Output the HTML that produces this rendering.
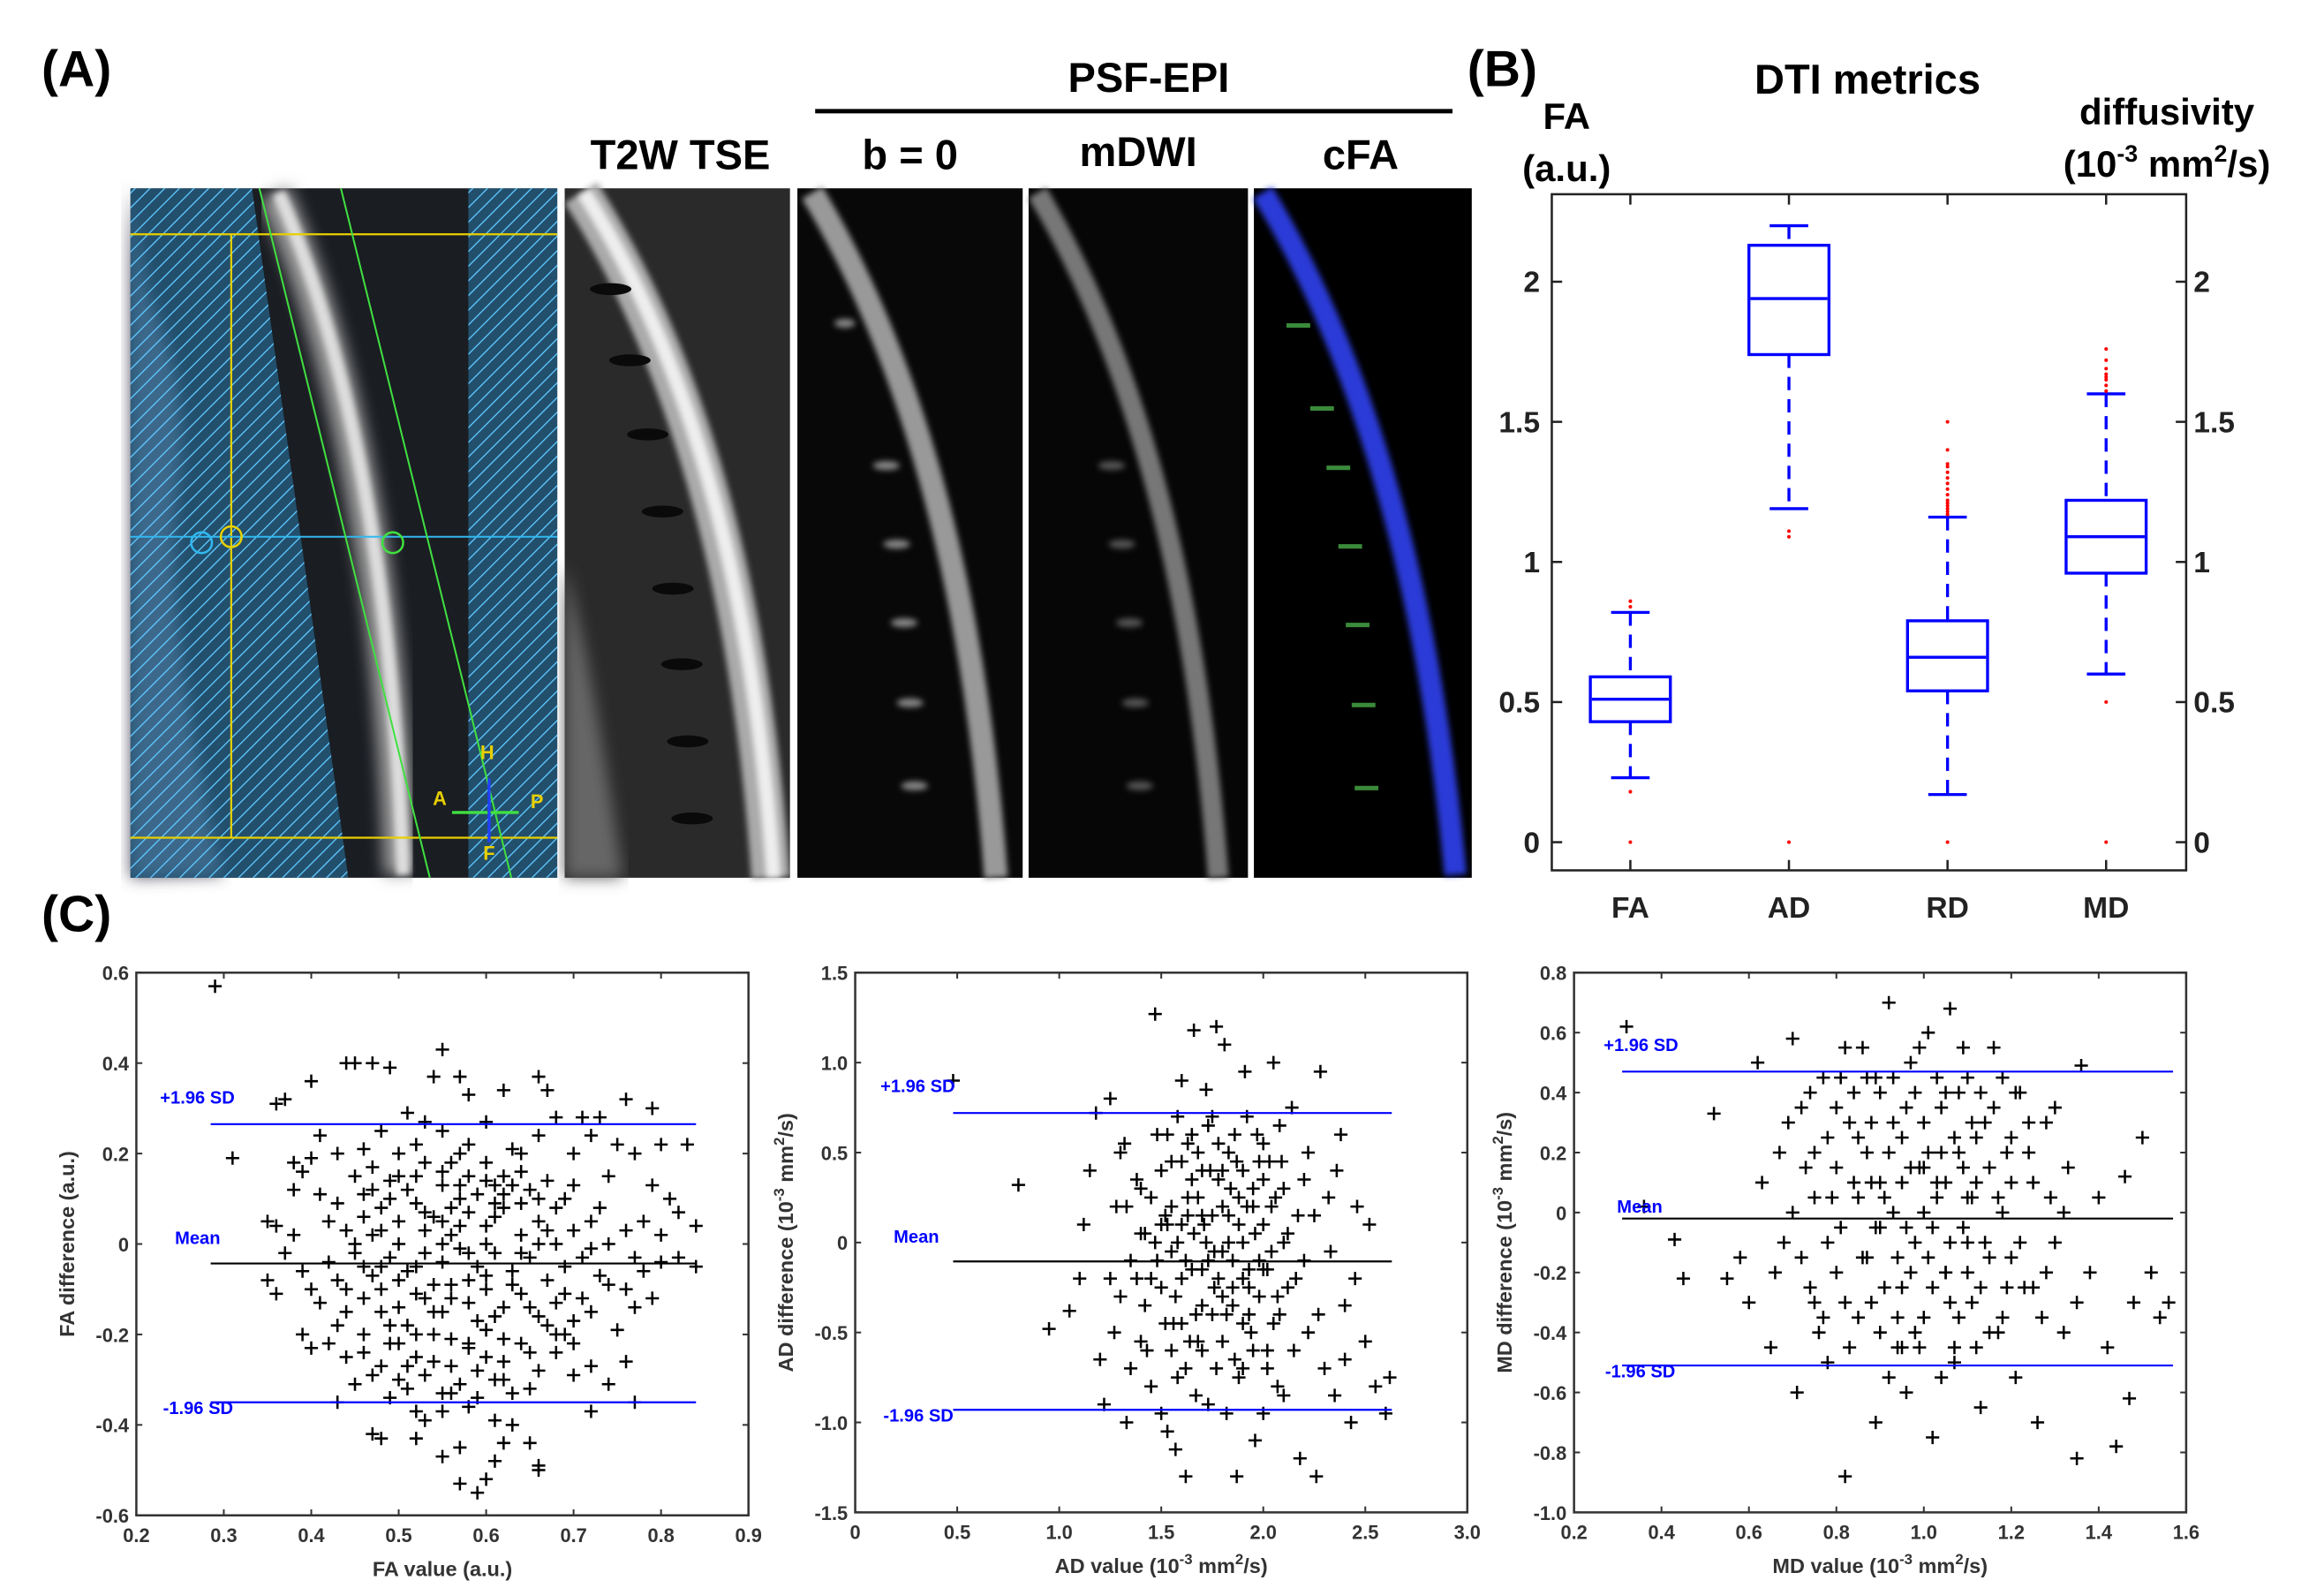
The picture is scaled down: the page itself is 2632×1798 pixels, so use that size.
<!DOCTYPE html>
<html><head><meta charset="utf-8"><style>
html,body{margin:0;padding:0;background:#fff}
svg{display:block}
text{font-family:"Liberation Sans",sans-serif;font-weight:bold}
</style></head><body>
<svg id="fig" width="2632" height="1798" viewBox="0 0 1568 1071" preserveAspectRatio="none" xmlns="http://www.w3.org/2000/svg">
<defs>
<pattern id="hatch" width="7" height="7" patternUnits="userSpaceOnUse" patternTransform="rotate(45)">
<rect width="7" height="7" fill="rgba(40,120,170,0.55)"/><line x1="0" y1="0" x2="0" y2="7" stroke="#5fc8ff" stroke-width="1.6"/></pattern>
<filter id="blur2"><feGaussianBlur stdDeviation="2"/></filter>
<filter id="blur5"><feGaussianBlur stdDeviation="5"/></filter>
</defs>
<rect width="1568" height="1071" fill="#fff"/>
<text x="28" y="58" font-size="34">(A)</text>
<text x="990" y="58" font-size="34">(B)</text>
<text x="28" y="628" font-size="34">(C)</text>

<g>
<rect x="88" y="127" width="288" height="465" fill="#1a1d22"/>
<path d="M100 200 Q130 260 120 330 Q110 420 150 590 L88 592 L88 127 Z" fill="#556" filter="url(#blur5)"/>
<path d="M185 130 Q260 300 270 590" stroke="#999" stroke-width="22" fill="none" filter="url(#blur5)"/>
<path d="M188 130 Q262 300 272 590" stroke="#ddd" stroke-width="9" fill="none" filter="url(#blur2)"/>
<path d="M88 127 L170 127 L235 592 L88 592 Z" fill="url(#hatch)"/>
<rect x="316" y="127" width="60" height="465" fill="url(#hatch)"/>
<line x1="88" y1="158" x2="376" y2="158" stroke="#e8d000" stroke-width="1.3"/>
<line x1="88" y1="565" x2="376" y2="565" stroke="#e8d000" stroke-width="1.3"/>
<line x1="156" y1="158" x2="156" y2="565" stroke="#e8d000" stroke-width="1.3"/>
<line x1="88" y1="362" x2="376" y2="362" stroke="#30b8f0" stroke-width="1.2"/>
<line x1="175" y1="127" x2="290" y2="592" stroke="#40e040" stroke-width="1.2"/>
<line x1="230" y1="127" x2="345" y2="592" stroke="#40e040" stroke-width="1.2"/>
<circle cx="156" cy="362" r="7" fill="none" stroke="#e8d000" stroke-width="1.5"/>
<circle cx="136" cy="366" r="7" fill="none" stroke="#30b8f0" stroke-width="1.5"/>
<circle cx="265" cy="366" r="7" fill="none" stroke="#40e040" stroke-width="1.5"/>
<text x="324" y="512" font-size="13" fill="#e8d000">H</text>
<text x="292" y="543" font-size="13" fill="#e8d000">A</text>
<text x="358" y="545" font-size="13" fill="#e8d000">P</text>
<text x="326" y="580" font-size="13" fill="#e8d000">F</text>
<line x1="305" y1="548" x2="350" y2="548" stroke="#40e040" stroke-width="2"/>
<line x1="330" y1="525" x2="330" y2="568" stroke="#2040ff" stroke-width="2"/>
</g>
<g>
<rect x="381" y="127" width="152" height="465" fill="#2a2a2a"/>
<path d="M381 380 Q400 450 420 592 L381 592 Z" fill="#666" filter="url(#blur5)"/>
<path d="M392 130 Q500 300 520 592" stroke="#aaa" stroke-width="26" fill="none" filter="url(#blur2)"/>
<path d="M394 130 Q502 300 522 592" stroke="#eee" stroke-width="10" fill="none" filter="url(#blur2)"/>
<g fill="#0a0a0a"><ellipse cx="412" cy="195" rx="14" ry="4"/><ellipse cx="425" cy="243" rx="14" ry="4"/><ellipse cx="437" cy="293" rx="14" ry="4"/><ellipse cx="447" cy="345" rx="14" ry="4"/><ellipse cx="454" cy="397" rx="14" ry="4"/><ellipse cx="460" cy="448" rx="14" ry="4"/><ellipse cx="464" cy="500" rx="14" ry="4"/><ellipse cx="467" cy="552" rx="14" ry="4"/></g>
</g>
<g>
<rect x="538" y="127" width="152" height="465" fill="#080808"/>
<path d="M548 130 Q650 300 672 592" stroke="#999" stroke-width="16" fill="none" filter="url(#blur2)"/>
<g fill="#888" filter="url(#blur2)"><ellipse cx="570" cy="218" rx="7" ry="3"/><ellipse cx="598" cy="314" rx="9" ry="3"/><ellipse cx="605" cy="367" rx="9" ry="3"/><ellipse cx="610" cy="420" rx="9" ry="3"/><ellipse cx="614" cy="474" rx="9" ry="3"/><ellipse cx="617" cy="530" rx="9" ry="3"/></g>
</g>
<g>
<rect x="694" y="127" width="148" height="465" fill="#060606"/>
<path d="M700 130 Q800 300 822 592" stroke="#777" stroke-width="14" fill="none" filter="url(#blur2)"/>
<g fill="#555" filter="url(#blur2)"><ellipse cx="750" cy="314" rx="9" ry="3"/><ellipse cx="757" cy="367" rx="9" ry="3"/><ellipse cx="762" cy="420" rx="9" ry="3"/><ellipse cx="766" cy="474" rx="9" ry="3"/><ellipse cx="769" cy="530" rx="9" ry="3"/></g>
</g>
<g>
<rect x="846" y="127" width="147" height="465" fill="#000"/>
<path d="M852 130 Q955 300 982 590" stroke="#2a3ad8" stroke-width="15" fill="none" filter="url(#blur2)"/>
<g fill="#3a8a3a"><rect x="868" y="218" width="16" height="3"/><rect x="884" y="274" width="16" height="3"/><rect x="895" y="314" width="16" height="3"/><rect x="903" y="367" width="16" height="3"/><rect x="908" y="420" width="16" height="3"/><rect x="912" y="474" width="16" height="3"/><rect x="914" y="530" width="16" height="3"/></g>
</g>
<text x="459" y="114" font-size="28" text-anchor="middle">T2W TSE</text>
<text x="614" y="114" font-size="28" text-anchor="middle">b = 0</text>
<text x="768" y="112" font-size="28" text-anchor="middle">mDWI</text>
<text x="918" y="114" font-size="28" text-anchor="middle">cFA</text>
<text x="775" y="62" font-size="28" text-anchor="middle">PSF-EPI</text>
<line x1="550" y1="75" x2="980" y2="75" stroke="#000" stroke-width="3"/>

<text x="1260" y="63" font-size="28" text-anchor="middle">DTI metrics</text>
<text x="1057" y="87" font-size="25" text-anchor="middle">FA</text>
<text x="1057" y="122" font-size="25" text-anchor="middle">(a.u.)</text>
<text x="1462" y="84" font-size="25" text-anchor="middle">diffusivity</text>
<text x="1462" y="119" font-size="25" text-anchor="middle">(10<tspan dy="-10" font-size="16">-3</tspan><tspan dy="10"> mm</tspan><tspan dy="-10" font-size="16">2</tspan><tspan dy="10">/s)</tspan></text>
<g id="boxplot"></g>
<g id="s1"></g>
<g id="s2"></g>
<g id="s3"></g>
</svg>
<script>
const boxCats=["FA","AD","RD","MD"];
const boxWhiskLo=[0.23,1.19,0.17,0.60];
const boxQ1=[0.43,1.74,0.54,0.96];
const boxMed=[0.51,1.94,0.66,1.09];
const boxQ3=[0.59,2.13,0.79,1.22];
const boxWhiskHi=[0.82,2.20,1.16,1.60];
const boxOutliers=[[0,0.18,0.84,0.86],[0,1.09,1.11],[0,1.17,1.18,1.19,1.20,1.21,1.22,1.24,1.26,1.28,1.30,1.32,1.34,1.35,1.40,1.50],[0,0.50,1.61,1.63,1.65,1.66,1.67,1.69,1.72,1.76]];
const boxTicks=[0,0.5,1,1.5,2];
const boxTickLabels=["0","0.5","1","1.5","2"];

const faPts=[[0.29,0.57],[0.31,0.19],[0.36,0.31],[0.37,0.32],[0.40,0.36],[0.44,0.40],[0.45,0.40],[0.47,0.40],[0.49,0.39],[0.55,0.43],[0.54,0.37],[0.57,0.37],[0.66,0.37],[0.67,0.34],[0.62,0.34],[0.58,0.33],[0.76,0.32],[0.79,0.30],[0.71,0.28],[0.73,0.28],[0.51,0.29],[0.48,0.25],[0.41,0.24],[0.38,0.18],[0.39,0.16],[0.40,0.19],[0.43,0.20],[0.46,0.21],[0.50,0.20],[0.52,0.22],[0.55,0.25],[0.58,0.22],[0.60,0.18],[0.63,0.21],[0.66,0.24],[0.70,0.20],[0.72,0.24],[0.75,0.22],[0.80,0.22],[0.83,0.22],[0.77,0.20],[0.74,0.15],[0.79,0.13],[0.81,0.10],[0.82,0.07],[0.84,0.04],[0.78,0.05],[0.76,0.03],[0.73,0.08],[0.69,0.10],[0.67,0.14],[0.64,0.16],[0.61,0.13],[0.58,0.15],[0.55,0.13],[0.52,0.15],[0.49,0.14],[0.46,0.11],[0.43,0.09],[0.41,0.11],[0.38,0.12],[0.35,0.05],[0.36,0.04],[0.38,0.02],[0.37,-0.02],[0.39,-0.06],[0.36,-0.11],[0.35,-0.08],[0.40,-0.10],[0.42,-0.04],[0.44,0.03],[0.46,0.06],[0.48,0.08],[0.50,0.05],[0.52,0.09],[0.54,0.06],[0.56,0.02],[0.58,0.07],[0.60,0.04],[0.62,0.08],[0.64,0.02],[0.66,0.05],[0.68,0.00],[0.70,0.03],[0.72,-0.01],[0.74,0.00],[0.77,-0.03],[0.80,-0.04],[0.82,-0.03],[0.84,-0.05],[0.79,-0.12],[0.76,-0.10],[0.73,-0.07],[0.71,-0.12],[0.69,-0.05],[0.67,-0.08],[0.65,-0.03],[0.63,-0.06],[0.61,-0.02],[0.59,-0.05],[0.57,-0.01],[0.55,-0.04],[0.53,-0.02],[0.51,-0.06],[0.49,-0.03],[0.47,-0.07],[0.45,-0.02],[0.43,-0.08],[0.41,-0.13],[0.44,-0.15],[0.46,-0.12],[0.48,-0.10],[0.50,-0.14],[0.52,-0.11],[0.54,-0.15],[0.56,-0.09],[0.58,-0.13],[0.60,-0.10],[0.62,-0.14],[0.64,-0.11],[0.66,-0.16],[0.68,-0.13],[0.70,-0.17],[0.72,-0.15],[0.75,-0.19],[0.77,-0.14],[0.39,-0.20],[0.40,-0.23],[0.42,-0.22],[0.44,-0.25],[0.46,-0.20],[0.48,-0.27],[0.50,-0.22],[0.52,-0.25],[0.54,-0.20],[0.56,-0.27],[0.58,-0.23],[0.60,-0.19],[0.62,-0.26],[0.64,-0.22],[0.66,-0.28],[0.68,-0.24],[0.70,-0.29],[0.72,-0.27],[0.74,-0.31],[0.76,-0.26],[0.45,-0.31],[0.47,-0.29],[0.49,-0.34],[0.51,-0.32],[0.53,-0.29],[0.55,-0.33],[0.57,-0.31],[0.59,-0.34],[0.61,-0.30],[0.63,-0.33],[0.65,-0.32],[0.43,-0.35],[0.52,-0.37],[0.53,-0.39],[0.55,-0.37],[0.58,-0.36],[0.61,-0.39],[0.63,-0.40],[0.65,-0.44],[0.62,-0.44],[0.57,-0.45],[0.55,-0.47],[0.48,-0.43],[0.47,-0.42],[0.52,-0.43],[0.66,-0.50],[0.66,-0.49],[0.61,-0.48],[0.60,-0.52],[0.59,-0.55],[0.57,-0.53],[0.72,-0.37],[0.77,-0.35],[0.50,0.00],[0.55,0.00],[0.60,-0.07],[0.53,0.03],[0.57,0.10],[0.59,-0.17],[0.51,-0.18],[0.62,0.11],[0.47,0.17],[0.65,0.12],[0.56,0.18],[0.60,0.27],[0.53,0.27],[0.68,0.28],[0.69,-0.20],[0.49,-0.18],[0.56,-0.21],
[0.45,0.00],[0.46,-0.05],[0.47,0.02],[0.48,-0.15],[0.49,0.10],[0.50,-0.08],[0.51,0.12],[0.52,-0.20],[0.53,0.07],[0.54,-0.09],[0.55,0.16],[0.56,-0.12],[0.57,0.04],[0.58,-0.22],[0.59,0.11],[0.60,0.00],[0.61,-0.16],[0.62,0.15],[0.63,-0.09],[0.64,0.09],[0.65,-0.24],[0.66,0.00],[0.67,-0.18],[0.68,0.08],[0.69,-0.11],[0.70,0.13],[0.71,-0.03],[0.46,-0.24],[0.48,0.03],[0.50,0.15],[0.52,-0.05],[0.54,-0.26],[0.56,0.08],[0.58,-0.02],[0.60,0.14],[0.62,-0.21],[0.64,-0.02],[0.66,0.10],[0.68,-0.20],[0.51,-0.27],[0.53,0.18],[0.55,-0.15],[0.57,0.13],[0.59,-0.28],[0.61,0.06],[0.63,0.13],[0.65,-0.14],[0.67,0.03],[0.47,0.12],[0.49,-0.22],[0.44,-0.10],[0.42,0.05],[0.43,-0.18],[0.72,0.05],[0.74,-0.09],[0.78,-0.06],[0.80,0.02],[0.55,0.05],[0.58,-0.08],[0.61,0.09],[0.50,-0.30],[0.56,-0.33],[0.62,-0.30],[0.48,-0.05],[0.53,-0.12],[0.60,-0.25],[0.64,0.20],[0.57,0.20],[0.45,0.15],[0.70,-0.22]];
const faLimits=[0.265,-0.043,-0.35];
const adPts=[[0.48,0.90],[0.80,0.32],[0.95,-0.48],[1.05,-0.38],[1.10,-0.20],[1.12,0.10],[1.15,0.40],[1.18,0.72],[1.20,-0.65],[1.22,-0.90],[1.25,0.80],[1.28,0.20],[1.30,-0.30],[1.32,0.55],[1.35,-0.10],[1.38,0.35],[1.40,-0.55],[1.42,0.05],[1.45,-0.80],[1.47,1.27],[1.48,0.60],[1.50,-0.25],[1.52,0.15],[1.53,-1.05],[1.55,0.45],[1.56,-0.45],[1.58,0.00],[1.60,0.90],[1.62,-0.70],[1.63,0.25],[1.65,-0.15],[1.66,1.18],[1.68,0.50],[1.70,-0.35],[1.71,0.10],[1.73,-0.90],[1.75,0.70],[1.76,-0.05],[1.78,0.35],[1.80,-0.55],[1.81,1.10],[1.83,0.15],[1.85,-0.25],[1.86,0.60],[1.88,-0.75],[1.90,0.00],[1.91,0.95],[1.93,-0.40],[1.95,0.30],[1.96,-1.10],[1.98,-0.10],[2.00,0.55],[2.02,-0.60],[2.04,0.20],[2.05,1.00],[2.07,-0.30],[2.09,0.45],[2.10,-0.85],[2.12,0.05],[2.14,0.75],[2.16,-0.20],[2.18,-1.20],[2.20,0.35],[2.22,-0.50],[2.25,0.15],[2.28,0.95],[2.30,-0.70],[2.33,-0.05],[2.36,0.40],[2.40,-0.35],[2.43,-1.00],[2.46,0.20],[2.50,-0.55],[2.55,-0.80],[2.60,-0.95],[2.62,-0.75],[1.45,0.25],[1.50,0.40],[1.55,-0.60],[1.60,-0.20],[1.65,0.35],[1.70,0.15],[1.75,-0.40],[1.80,0.20],[1.85,-0.10],[1.90,0.40],[1.95,-0.60],[2.00,0.10],[2.05,-0.45],[2.10,0.30],[1.40,0.05],[1.35,-0.70],[1.50,-0.95],[1.62,-1.30],[1.72,0.85],[1.82,-0.95],[1.92,0.70],[2.02,-0.15],[2.15,-0.60],[1.58,0.70],[1.68,-0.55],[1.78,-0.20],[1.88,0.25],[1.98,0.45],[1.48,-0.10],[1.53,0.10],[1.63,0.55],[1.73,-0.10],[1.83,0.50],[1.93,-0.25],[2.08,0.65],[2.20,-0.10],[2.35,-0.85],[1.42,-0.35],[1.57,-1.15],[1.67,-0.85],[1.77,1.20],[1.87,-1.30],[2.26,-1.30],[2.38,0.60],[1.33,-1.00],[1.27,-0.50],[2.45,-0.20],[2.52,0.10],[1.60,0.10],[1.70,0.40],[1.80,-0.30],[1.90,-0.70],[2.00,-0.95],
[1.40,0.30],[1.45,-0.20],[1.50,0.10],[1.52,-0.45],[1.55,0.20],[1.57,-0.30],[1.60,0.45],[1.62,-0.10],[1.64,-0.55],[1.66,0.05],[1.68,0.25],[1.70,-0.60],[1.72,0.00],[1.74,0.40],[1.76,-0.25],[1.78,0.55],[1.80,-0.05],[1.82,-0.40],[1.84,0.30],[1.86,-0.65],[1.88,0.10],[1.90,-0.20],[1.92,0.20],[1.94,-0.50],[1.96,0.05],[1.98,-0.30],[2.00,0.35],[2.02,-0.70],[2.04,-0.05],[2.06,0.25],[2.08,-0.40],[2.10,0.00],[1.43,-0.60],[1.47,0.00],[1.53,0.60],[1.58,-0.75],[1.63,0.15],[1.67,-0.40],[1.73,0.65],[1.77,-0.70],[1.83,0.00],[1.87,0.45],[1.93,-0.15],[1.97,0.60],[2.03,0.45],[2.07,-0.80],[2.12,-0.25],[2.17,0.15],[2.22,0.50],[2.27,-0.40],[1.38,-0.20],[1.33,0.20],[1.30,0.50],[1.25,-0.20],[2.32,0.25],[2.40,-0.65],[1.60,-0.45],[1.70,-0.15],[1.80,0.40],[1.90,-0.45],[1.65,0.60],[1.75,0.15],[1.85,-0.35],[1.95,0.20],[1.55,-0.05],[2.00,-0.15]];
const adLimits=[0.72,-0.105,-0.93];
const mdPts=[[0.32,0.62],[0.36,0.02],[0.43,-0.09],[0.45,-0.22],[0.52,0.33],[0.55,-0.22],[0.58,-0.15],[0.60,-0.30],[0.62,0.50],[0.63,0.10],[0.65,-0.45],[0.67,0.20],[0.68,-0.10],[0.70,0.58],[0.71,-0.60],[0.72,0.35],[0.74,-0.25],[0.75,0.05],[0.77,0.45],[0.78,-0.50],[0.80,0.15],[0.81,-0.05],[0.82,-0.88],[0.83,0.30],[0.85,-0.35],[0.86,0.55],[0.87,-0.15],[0.88,0.10],[0.89,-0.70],[0.90,0.40],[0.91,-0.25],[0.92,0.70],[0.93,0.00],[0.94,-0.45],[0.95,0.25],[0.96,-0.60],[0.97,0.50],[0.98,-0.10],[0.99,0.15],[1.00,-0.35],[1.01,0.60],[1.02,-0.75],[1.03,0.05],[1.04,0.35],[1.05,-0.20],[1.06,0.68],[1.07,-0.50],[1.08,0.20],[1.09,-0.05],[1.10,0.45],[1.11,-0.30],[1.12,0.10],[1.13,-0.65],[1.14,0.30],[1.15,-0.15],[1.16,0.55],[1.17,-0.40],[1.18,0.00],[1.20,0.25],[1.21,-0.55],[1.22,0.40],[1.23,-0.25],[1.25,0.10],[1.26,-0.70],[1.28,0.30],[1.30,-0.10],[1.32,-0.40],[1.33,0.15],[1.35,-0.82],[1.36,0.49],[1.38,-0.20],[1.40,0.05],[1.42,-0.45],[1.44,-0.78],[1.46,0.12],[1.48,-0.30],[1.50,0.25],[1.52,-0.20],[1.54,-0.35],[1.56,-0.30],[1.47,-0.62],[0.85,0.05],[0.90,-0.05],[0.95,0.10],[1.00,0.00],[1.05,0.10],[1.10,-0.10],[0.88,-0.30],[0.93,0.30],[0.98,-0.40],[1.03,0.45],[1.08,-0.35],[1.13,0.40],[0.80,-0.20],[0.78,0.25],[0.84,0.40],[0.96,0.35],[1.02,-0.25],[1.12,-0.45],[1.18,0.45],[0.92,-0.55],[0.97,-0.20],[1.07,0.25],[1.15,0.15],[1.20,-0.15],[0.75,-0.30],[0.70,0.00],[0.73,0.15],[0.82,0.55],[0.87,0.20],[0.99,0.55],[1.04,-0.55],[1.09,0.55],[1.24,0.20],[1.27,-0.35],[0.66,-0.20],[0.69,0.30],[0.94,-0.15],[1.01,0.20],[1.06,-0.10],[1.11,0.05],[0.89,0.45],[0.76,-0.40],[1.19,-0.25],[1.29,0.05],
[0.75,0.20],[0.78,-0.10],[0.80,0.35],[0.82,-0.30],[0.84,0.10],[0.86,-0.15],[0.88,0.30],[0.90,-0.40],[0.91,0.05],[0.93,0.45],[0.95,-0.25],[0.97,0.15],[0.99,-0.45],[1.00,0.30],[1.02,-0.05],[1.04,0.20],[1.06,-0.30],[1.08,0.40],[1.10,-0.20],[1.12,0.25],[1.14,-0.10],[1.16,0.35],[1.18,-0.35],[1.20,0.10],[1.22,-0.10],[1.24,0.30],[0.79,0.05],[0.83,-0.45],[0.87,0.45],[0.92,0.20],[0.96,-0.05],[1.01,-0.15],[1.05,0.40],[1.09,0.15],[1.13,-0.25],[1.17,0.05],[1.21,0.40],[1.25,-0.25],[0.85,0.25],[0.89,-0.05],[0.94,-0.35],[0.98,0.40],[1.03,0.10],[1.07,-0.45],[1.11,0.30],[1.15,-0.40],[1.19,0.20],[0.77,-0.35],[0.81,0.45],[0.72,-0.15],[0.74,0.40],[1.28,-0.20],[1.30,0.35],[1.32,0.00],[1.35,-0.30],[0.90,0.10],[1.00,0.15],[1.10,0.05],[0.95,-0.45],[1.05,-0.20]];
const mdLimits=[0.47,-0.02,-0.51];
const faXTicks=["0.2","0.3","0.4","0.5","0.6","0.7","0.8","0.9"];
const faYTicks=["-0.6","-0.4","-0.2","0","0.2","0.4","0.6"];
const adXTicks=["0","0.5","1.0","1.5","2.0","2.5","3.0"];
const adYTicks=["-1.5","-1.0","-0.5","0","0.5","1.0","1.5"];
const mdXTicks=["0.2","0.4","0.6","0.8","1.0","1.2","1.4","1.6"];
const mdYTicks=["-1.0","-0.8","-0.6","-0.4","-0.2","0","0.2","0.4","0.6","0.8"];

const NS="http://www.w3.org/2000/svg";
function mk(parent,tag,attrs){const e=document.createElementNS(NS,tag);for(const k in attrs)e.setAttribute(k,attrs[k]);parent.appendChild(e);return e;}

(function(){
  const g=document.getElementById('boxplot');
  const L=1047,R=1475,T=131,B=587;
  const y=v=>568-v*189;
  const x=i=>1100+i*107;
  const fr=mk(g,'rect',{x:L,y:T,width:R-L,height:B-T,fill:'none',stroke:'#222','stroke-width':1.5});
  
  
  boxTicks.forEach((v,i)=>{
    mk(g,'line',{x1:L,x2:L+7,y1:y(v),y2:y(v),stroke:'#222','stroke-width':1.5});
    mk(g,'line',{x1:R-7,x2:R,y1:y(v),y2:y(v),stroke:'#222','stroke-width':1.5});
    const t1=mk(g,'text',{x:L-8,y:y(v)+7,'font-size':20,'text-anchor':'end',fill:'#222'});t1.textContent=boxTickLabels[i];
    
    
    const t2=mk(g,'text',{x:R+5,y:y(v)+7,'font-size':20,fill:'#222'});t2.textContent=boxTickLabels[i];
    
    
  });
  boxCats.forEach((c,i)=>{
    const cx=x(i),hw=26;
    mk(g,'line',{x1:cx,x2:cx,y1:T,y2:T+7,stroke:'#222','stroke-width':1.5});
    mk(g,'line',{x1:cx,x2:cx,y1:B-7,y2:B,stroke:'#222','stroke-width':1.5});
    const bg=mk(g,'g',{});
    
    
    mk(bg,'line',{x1:cx,x2:cx,y1:y(boxWhiskHi[i]),y2:y(boxQ3[i]),stroke:'#00f','stroke-width':2,'stroke-dasharray':'9 6'});
    mk(bg,'line',{x1:cx,x2:cx,y1:y(boxQ1[i]),y2:y(boxWhiskLo[i]),stroke:'#00f','stroke-width':2,'stroke-dasharray':'9 6'});
    mk(bg,'line',{x1:cx-13,x2:cx+13,y1:y(boxWhiskHi[i]),y2:y(boxWhiskHi[i]),stroke:'#00f','stroke-width':2});
    mk(bg,'line',{x1:cx-13,x2:cx+13,y1:y(boxWhiskLo[i]),y2:y(boxWhiskLo[i]),stroke:'#00f','stroke-width':2});
    mk(bg,'rect',{x:cx-hw-1,y:y(boxQ3[i]),width:2*hw+2,height:y(boxQ1[i])-y(boxQ3[i]),fill:'none',stroke:'#00f','stroke-width':2});
    mk(bg,'line',{x1:cx-hw,x2:cx+hw,y1:y(boxMed[i]),y2:y(boxMed[i]),stroke:'#00f','stroke-width':2});
    boxOutliers[i].forEach(v=>{
      const o=mk(bg,'circle',{cx:cx,cy:y(v),r:1.2,fill:'#f00'});
      
      
    });
    const t=mk(g,'text',{x:cx,y:619,'font-size':20,'text-anchor':'middle',fill:'#222'});t.textContent=c;
    
    
  });
})();

function scatter(id,L,T,R,B,xmin,xmax,ymin,ymax,xt,yt,pts,lim,xlo,xhi,ylabParts,xlabParts,labX){
  const g=document.getElementById(id);
  const x=v=>L+(v-xmin)/(xmax-xmin)*(R-L);
  const y=v=>B-(v-ymin)/(ymax-ymin)*(B-T);
  const fr=mk(g,'rect',{x:L,y:T,width:R-L,height:B-T,fill:'none',stroke:'#333','stroke-width':1.5});
  
  
  xt.forEach(s=>{const v=parseFloat(s);
    mk(g,'line',{x1:x(v),x2:x(v),y1:B,y2:B-4,stroke:'#333','stroke-width':1.2});
    mk(g,'line',{x1:x(v),x2:x(v),y1:T,y2:T+4,stroke:'#333','stroke-width':1.2});
    const t=mk(g,'text',{x:x(v),y:B+18,'font-size':13,'text-anchor':'middle',fill:'#333'});t.textContent=s;
    
    
  });
  yt.forEach(s=>{const v=parseFloat(s);
    mk(g,'line',{x1:L,x2:L+4,y1:y(v),y2:y(v),stroke:'#333','stroke-width':1.2});
    mk(g,'line',{x1:R-4,x2:R,y1:y(v),y2:y(v),stroke:'#333','stroke-width':1.2});
    const t=mk(g,'text',{x:L-5,y:y(v)+5,'font-size':13,'text-anchor':'end',fill:'#333'});t.textContent=s;
    
    
  });
  const mg=mk(g,'g',{stroke:'#000','stroke-width':1.5});
  
  
  pts.forEach(p=>{const px=x(p[0]),py=y(p[1]);
    const m=mk(mg,'path',{d:`M${px-4.5} ${py}H${px+4.5}M${px} ${py-4.5}V${py+4.5}`});
    
    
  });
  const cols=['#00f','#000','#00f'];const names=['upper-limit-line','mean-line','lower-limit-line'];
  const labs=['+1.96 SD','Mean','-1.96 SD'];
  lim.forEach((v,i)=>{
    const l=mk(g,'line',{x1:x(xlo),x2:x(xhi),y1:y(v),y2:y(v),stroke:cols[i],'stroke-width':1.3});
    
    
    const t=mk(g,'text',{x:labX[i],y:(i==1?y(0):y(v)-14)+(i==2?22:0),'font-size':12,fill:'#00f'});t.textContent=labs[i];
    
    
  });
  const yl=mk(g,'text',{transform:`translate(${L-42},${(T+B)/2}) rotate(-90)`,'font-size':14,'text-anchor':'middle',fill:'#333'});
  yl.innerHTML=ylabParts;
  
  
  const xl=mk(g,'text',{x:(L+R)/2,y:B+41,'font-size':14,'text-anchor':'middle',fill:'#333'});
  xl.innerHTML=xlabParts;
  
  
}
const sup=(a)=>`<tspan dy="-6" font-size="10">${a}</tspan><tspan dy="6">`;
scatter('s1',92,656,505,1022,0.2,0.9,-0.6,0.6,faXTicks,faYTicks,faPts,faLimits,0.285,0.84,
 'FA difference (a.u.)','FA value (a.u.)',[108,118,110]);
scatter('s2',577,656,990,1020,0,3.0,-1.5,1.5,adXTicks,adYTicks,adPts,adLimits,0.48,2.63,
 'AD difference (10'+sup('-3')+' mm</tspan>'+sup('2')+'/s)</tspan>','AD value (10'+sup('-3')+' mm</tspan>'+sup('2')+'/s)</tspan>',[594,603,596]);
scatter('s3',1062,656,1475,1020,0.2,1.6,-1.0,0.8,mdXTicks,mdYTicks,mdPts,mdLimits,0.31,1.57,
 'MD difference (10'+sup('-3')+' mm</tspan>'+sup('2')+'/s)</tspan>','MD value (10'+sup('-3')+' mm</tspan>'+sup('2')+'/s)</tspan>',[1082,1091,1083]);
</script>
</body></html>
